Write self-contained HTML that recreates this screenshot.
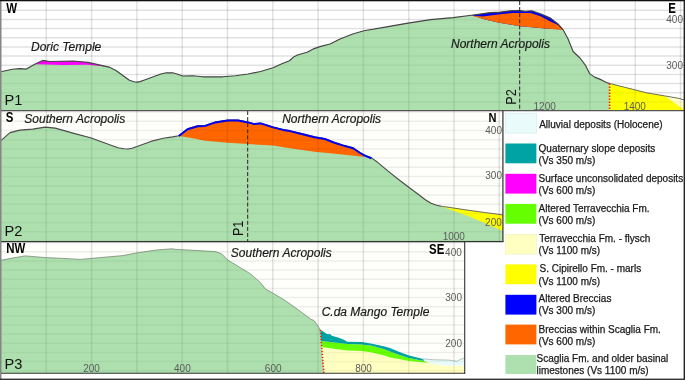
<!DOCTYPE html>
<html><head><meta charset="utf-8"><title>Geological cross-sections</title>
<style>
html,body{margin:0;padding:0;background:#fff;}
body{width:685px;height:380px;overflow:hidden;}
svg{display:block;font-family:"Liberation Sans",sans-serif;}
.it{font-style:italic;font-size:12px;fill:#1a1a1a;stroke:#1a1a1a;stroke-width:0.2px;}
.bd{font-weight:bold;font-size:13.8px;fill:#000;}
.ax{font-size:10px;fill:#5c5c5c;}
.pl{font-size:14.6px;fill:#111;}
.lg{font-size:10px;fill:#1a1a1a;stroke:#1a1a1a;stroke-width:0.25px;}
</style></head><body>
<svg width="685" height="380" viewBox="0 0 685 380">
<defs>
<clipPath id="c1"><rect x="0" y="0" width="685" height="110.5"/></clipPath>
<clipPath id="c2"><rect x="0" y="110.5" width="503" height="131"/></clipPath>
<clipPath id="c3"><rect x="0" y="241.5" width="465" height="132"/></clipPath>
</defs>
<rect width="685" height="380" fill="#fff"/>

<g clip-path="url(#c1)" stroke="#000" stroke-opacity="0.075" stroke-width="1.5" fill="none"><path d="M46.3 0V110.5" stroke-opacity="0.04"/><path d="M91.6 0V110.5" stroke-opacity="0.04"/><path d="M136.9 0V110.5" stroke-opacity="0.04"/><path d="M182.2 0V110.5" stroke-opacity="0.04"/><path d="M227.5 0V110.5" stroke-opacity="0.04"/><path d="M272.8 0V110.5" stroke-opacity="0.04"/><path d="M318.1 0V110.5" stroke-opacity="0.04"/><path d="M363.4 0V110.5" stroke-opacity="0.04"/><path d="M408.7 0V110.5" stroke-opacity="0.04"/><path d="M454.0 0V110.5" stroke-opacity="0.04"/><path d="M499.3 0V110.5" stroke-opacity="0.04"/><path d="M544.6 0V110.5" stroke-opacity="0.04"/><path d="M589.9 0V110.5" stroke-opacity="0.04"/><path d="M635.2 0V110.5" stroke-opacity="0.04"/><path d="M680.5 0V110.5" stroke-opacity="0.04"/><path d="M0 1.2H685"/><path d="M0 10.3H685"/><path d="M0 19.5H685"/><path d="M0 28.6H685"/><path d="M0 37.8H685"/><path d="M0 47.0H685"/><path d="M0 56.1H685"/><path d="M0 65.2H685"/><path d="M0 74.4H685"/><path d="M0 83.5H685"/><path d="M0 92.7H685"/><path d="M0 101.9H685"/></g>
<g clip-path="url(#c1)">
<polygon fill="#ade0ae" points="0.0,71.8 2.0,71.5 12.6,69.3 20.0,68.6 26.4,69.1 35.2,63.9 42.7,60.4 50.0,61.5 73.0,61.0 88.0,62.4 109.0,67.1 115.6,70.2 129.4,80.2 134.0,81.8 137.0,82.1 140.0,81.6 144.5,80.0 160.8,74.0 166.3,72.8 172.6,72.8 177.0,74.0 182.6,76.0 192.7,75.8 202.7,76.8 222.8,76.8 235.4,75.8 248.0,74.0 260.5,71.5 273.0,67.7 283.0,63.2 289.4,60.7 294.4,56.4 298.2,54.7 307.0,52.2 313.3,48.9 320.8,46.4 330.0,44.0 340.0,39.0 352.7,34.0 364.0,30.7 385.3,27.1 408.0,23.1 430.5,19.6 453.2,17.6 471.4,15.3 490.2,12.6 500.3,12.1 510.3,10.8 519.1,10.6 525.4,11.3 531.7,10.8 540.5,13.8 550.5,18.1 558.0,23.9 563.0,29.6 568.1,39.0 573.1,51.5 580.0,58.0 585.7,65.7 589.6,73.6 594.6,77.1 601.5,79.9 606.4,82.5 609.4,83.4 625.2,87.4 646.9,92.9 664.7,95.9 678.5,98.3 685.0,100.2 685.0,111.0 0.0,111.0"/>
<polygon fill="#ffff00" points="609.4,83.4 625.2,87.4 646.9,92.9 664.7,95.9 678.5,98.3 685.0,100.2 685.0,111.0 609.4,111.0"/>
<polygon fill="#ffffc2" points="664.7,96.1 685,100.2 685,110.6"/>
<polygon fill="#ffffe0" points="664.7,96.1 685,100.2 685,103.5"/>
<polygon fill="#ff00ff" points="35.2,63.9 42.7,60.4 50.0,61.5 73.0,61.0 88.0,62.4 109.0,67.1 100.0,66.0 88.0,64.8 62.8,65.1 45.0,64.6 35.2,64.2"/>
<polygon fill="#0000ee" points="471.4,15.3 490.2,12.6 500.3,12.1 510.3,10.8 519.1,10.6 525.4,11.3 531.7,10.8 540.5,13.8 550.5,18.1 558.0,23.9 563.0,29.6 545.5,28.4 520.4,26.2 500.3,23.0 485.0,19.5"/>
<polygon fill="#ff6600" points="471.4,15.6 482.7,16.6 500.3,14.3 512.8,13.1 530.4,13.1 540.5,16.3 550.5,21.4 558.0,25.1 563.0,29.9 545.5,28.4 520.4,26.2 500.3,23.0 485.0,19.5"/>
</g>
<g clip-path="url(#c1)" stroke="#000" stroke-opacity="0.045" stroke-width="1.5" fill="none"><path d="M46.3 0V110.5" stroke-opacity="0.08"/><path d="M91.6 0V110.5" stroke-opacity="0.08"/><path d="M136.9 0V110.5" stroke-opacity="0.08"/><path d="M182.2 0V110.5" stroke-opacity="0.08"/><path d="M227.5 0V110.5" stroke-opacity="0.08"/><path d="M272.8 0V110.5" stroke-opacity="0.08"/><path d="M318.1 0V110.5" stroke-opacity="0.08"/><path d="M363.4 0V110.5" stroke-opacity="0.08"/><path d="M408.7 0V110.5" stroke-opacity="0.08"/><path d="M454.0 0V110.5" stroke-opacity="0.08"/><path d="M499.3 0V110.5" stroke-opacity="0.08"/><path d="M544.6 0V110.5" stroke-opacity="0.08"/><path d="M589.9 0V110.5" stroke-opacity="0.08"/><path d="M635.2 0V110.5" stroke-opacity="0.08"/><path d="M680.5 0V110.5" stroke-opacity="0.08"/><path d="M0 1.2H685"/><path d="M0 10.3H685"/><path d="M0 19.5H685"/><path d="M0 28.6H685"/><path d="M0 37.8H685"/><path d="M0 47.0H685"/><path d="M0 56.1H685"/><path d="M0 65.2H685"/><path d="M0 74.4H685"/><path d="M0 83.5H685"/><path d="M0 92.7H685"/><path d="M0 101.9H685"/></g>
<g clip-path="url(#c1)">
<polyline fill="none" stroke="#444" stroke-width="1.15" stroke-linejoin="round" points="0.0,71.8 2.0,71.5 12.6,69.3 20.0,68.6 26.4,69.1 35.2,63.9 42.7,60.4 50.0,61.5 73.0,61.0 88.0,62.4 109.0,67.1 115.6,70.2 129.4,80.2 134.0,81.8 137.0,82.1 140.0,81.6 144.5,80.0 160.8,74.0 166.3,72.8 172.6,72.8 177.0,74.0 182.6,76.0 192.7,75.8 202.7,76.8 222.8,76.8 235.4,75.8 248.0,74.0 260.5,71.5 273.0,67.7 283.0,63.2 289.4,60.7 294.4,56.4 298.2,54.7 307.0,52.2 313.3,48.9 320.8,46.4 330.0,44.0 340.0,39.0 352.7,34.0 364.0,30.7 385.3,27.1 408.0,23.1 430.5,19.6 453.2,17.6 471.4,15.3 490.2,12.6 500.3,12.1 510.3,10.8 519.1,10.6 525.4,11.3 531.7,10.8 540.5,13.8 550.5,18.1 558.0,23.9 563.0,29.6 568.1,39.0 573.1,51.5 580.0,58.0 585.7,65.7 589.6,73.6 594.6,77.1 601.5,79.9 606.4,82.5 609.4,83.4"/>
<polyline fill="none" stroke="#6e6e5a" stroke-width="1" stroke-linejoin="round" points="609.4,83.4 625.2,87.4 646.9,92.9 664.7,95.9 678.5,98.3 685.0,100.2"/>
<path d="M609.6 83.6V110.5" stroke="#ff2200" stroke-width="1.6" stroke-dasharray="1.4 1.6" fill="none"/>
<path d="M519.7 1V110.5" stroke="#222" stroke-width="1" stroke-dasharray="4 2.1" fill="none"/>
</g>
<rect x="0" y="111" width="503" height="131" fill="#fefefb"/>
<g clip-path="url(#c2)" stroke="#000" stroke-opacity="0.025" stroke-width="1.5" fill="none"><path d="M46.3 111V241.5" stroke-opacity="0.04"/><path d="M91.6 111V241.5" stroke-opacity="0.04"/><path d="M136.9 111V241.5" stroke-opacity="0.04"/><path d="M182.2 111V241.5" stroke-opacity="0.04"/><path d="M227.5 111V241.5" stroke-opacity="0.04"/><path d="M272.8 111V241.5" stroke-opacity="0.04"/><path d="M318.1 111V241.5" stroke-opacity="0.04"/><path d="M363.4 111V241.5" stroke-opacity="0.04"/><path d="M408.7 111V241.5" stroke-opacity="0.04"/><path d="M454.0 111V241.5" stroke-opacity="0.04"/><path d="M499.3 111V241.5" stroke-opacity="0.04"/><path d="M0 112.1H503"/><path d="M0 121.3H503"/><path d="M0 130.5H503"/><path d="M0 139.7H503"/><path d="M0 148.9H503"/><path d="M0 158.1H503"/><path d="M0 167.3H503"/><path d="M0 176.6H503"/><path d="M0 185.8H503"/><path d="M0 195.0H503"/><path d="M0 204.2H503"/><path d="M0 213.4H503"/><path d="M0 222.6H503"/><path d="M0 231.8H503"/><path d="M0 241.0H503"/></g>
<g clip-path="url(#c2)">
<polygon fill="#ade0ae" points="0.0,140.5 2.0,139.7 10.0,132.6 20.0,130.1 32.7,129.1 45.2,127.1 55.3,128.1 72.9,133.1 90.5,137.7 105.5,143.2 118.0,147.7 124.0,148.8 128.1,149.0 132.0,148.2 137.0,146.5 150.8,141.4 163.3,138.2 172.6,136.9 178.8,135.7 187.6,128.9 197.7,125.9 205.2,125.6 215.3,122.1 227.8,120.1 237.9,120.1 248.0,122.1 254.2,123.8 260.5,123.1 273.1,127.1 283.1,129.6 290.0,130.8 300.5,133.4 314.5,136.9 325.0,138.7 333.8,142.2 342.6,145.1 353.1,147.9 360.1,152.7 365.3,155.6 371.5,157.9 377.6,162.3 388.1,171.1 398.6,179.5 404.8,184.2 419.5,195.3 425.0,199.5 431.0,203.3 436.0,205.0 441.2,206.2 466.0,209.9 484.5,212.5 503.0,214.9 503.0,242.0 0.0,242.0"/>
<polygon fill="#ffff00" points="441.2,206.2 466,209.9 484.5,212.5 503,214.9 503,231 485.9,223.4 467.4,215.8"/>
<polygon fill="#ff6600" points="178.8,135.7 187.6,128.9 197.7,125.9 205.2,125.6 215.3,122.1 227.8,120.1 237.9,120.1 248.0,122.1 254.2,123.8 260.5,123.1 273.1,127.1 283.1,129.6 290.0,130.8 300.5,133.4 314.5,136.9 325.0,138.7 333.8,142.2 342.6,145.1 353.1,147.9 360.1,152.7 365.3,155.6 362.7,156.7 342.6,154.4 314.5,151.8 290.0,148.3 273.1,145.6 248.0,144.0 227.8,142.7 205.2,140.7 190.0,137.8 178.8,135.9"/>
</g>
<g clip-path="url(#c2)" stroke="#000" stroke-opacity="0.045" stroke-width="1.5" fill="none"><path d="M46.3 111V241.5" stroke-opacity="0.08"/><path d="M91.6 111V241.5" stroke-opacity="0.08"/><path d="M136.9 111V241.5" stroke-opacity="0.08"/><path d="M182.2 111V241.5" stroke-opacity="0.08"/><path d="M227.5 111V241.5" stroke-opacity="0.08"/><path d="M272.8 111V241.5" stroke-opacity="0.08"/><path d="M318.1 111V241.5" stroke-opacity="0.08"/><path d="M363.4 111V241.5" stroke-opacity="0.08"/><path d="M408.7 111V241.5" stroke-opacity="0.08"/><path d="M454.0 111V241.5" stroke-opacity="0.08"/><path d="M499.3 111V241.5" stroke-opacity="0.08"/><path d="M0 112.1H503"/><path d="M0 121.3H503"/><path d="M0 130.5H503"/><path d="M0 139.7H503"/><path d="M0 148.9H503"/><path d="M0 158.1H503"/><path d="M0 167.3H503"/><path d="M0 176.6H503"/><path d="M0 185.8H503"/><path d="M0 195.0H503"/><path d="M0 204.2H503"/><path d="M0 213.4H503"/><path d="M0 222.6H503"/><path d="M0 231.8H503"/><path d="M0 241.0H503"/></g>
<g clip-path="url(#c2)">
<polyline fill="none" stroke="#4a4a4a" stroke-width="1.1" stroke-linejoin="round" points="0.0,140.5 2.0,139.7 10.0,132.6 20.0,130.1 32.7,129.1 45.2,127.1 55.3,128.1 72.9,133.1 90.5,137.7 105.5,143.2 118.0,147.7 124.0,148.8 128.1,149.0 132.0,148.2 137.0,146.5 150.8,141.4 163.3,138.2 172.6,136.9 178.8,135.7 187.6,128.9 197.7,125.9 205.2,125.6 215.3,122.1 227.8,120.1 237.9,120.1 248.0,122.1 254.2,123.8 260.5,123.1 273.1,127.1 283.1,129.6 290.0,130.8 300.5,133.4 314.5,136.9 325.0,138.7 333.8,142.2 342.6,145.1 353.1,147.9 360.1,152.7 365.3,155.6 371.5,157.9 377.6,162.3 388.1,171.1 398.6,179.5 404.8,184.2 419.5,195.3 425.0,199.5 431.0,203.3 436.0,205.0 441.2,206.2"/>
<polyline fill="none" stroke="#6e6e5a" stroke-width="1" stroke-linejoin="round" points="441.2,206.2 466.0,209.9 484.5,212.5 503.0,214.9"/>
<polyline fill="none" stroke="#0000ee" stroke-width="2" stroke-linejoin="round" points="178.8,136.0 187.6,129.2 197.7,126.2 205.2,125.9 215.3,122.4 227.8,120.4 237.9,120.4 248.0,122.4 254.2,124.1 260.5,123.4 273.1,127.4 283.1,129.9 290.0,131.1 300.5,133.7 314.5,137.2 325.0,139.0 333.8,142.5 342.6,145.4 353.1,148.2 360.1,153.0 365.3,155.9 371.5,158.2"/>
<path d="M247.7 111V241.5" stroke="#222" stroke-width="1" stroke-dasharray="4 2.1" fill="none"/>
</g>
<rect x="0" y="242" width="465" height="131.5" fill="#fefefb"/>
<g clip-path="url(#c3)" stroke="#000" stroke-opacity="0.025" stroke-width="1.5" fill="none"><path d="M46.3 242V373.5" stroke-opacity="0.04"/><path d="M91.6 242V373.5" stroke-opacity="0.04"/><path d="M136.9 242V373.5" stroke-opacity="0.04"/><path d="M182.2 242V373.5" stroke-opacity="0.04"/><path d="M227.5 242V373.5" stroke-opacity="0.04"/><path d="M272.8 242V373.5" stroke-opacity="0.04"/><path d="M318.1 242V373.5" stroke-opacity="0.04"/><path d="M363.4 242V373.5" stroke-opacity="0.04"/><path d="M408.7 242V373.5" stroke-opacity="0.04"/><path d="M454.0 242V373.5" stroke-opacity="0.04"/><path d="M0 242.7H465"/><path d="M0 251.8H465"/><path d="M0 260.9H465"/><path d="M0 270.1H465"/><path d="M0 279.2H465"/><path d="M0 288.4H465"/><path d="M0 297.6H465"/><path d="M0 306.7H465"/><path d="M0 315.9H465"/><path d="M0 325.0H465"/><path d="M0 334.2H465"/><path d="M0 343.3H465"/><path d="M0 352.5H465"/><path d="M0 361.6H465"/><path d="M0 370.8H465"/></g>
<g clip-path="url(#c3)">
<polygon fill="#ade0ae" points="0.0,260.6 2.0,260.1 12.6,258.1 25.1,255.9 45.2,257.6 62.8,258.4 80.4,259.4 100.5,257.6 123.1,255.6 135.7,253.1 155.8,250.1 172.0,248.8 175.0,249.3 197.7,250.6 215.3,251.6 221.6,253.8 227.8,260.1 240.4,267.7 250.5,273.9 260.5,282.7 265.5,289.0 273.1,293.3 285.6,300.8 300.7,311.6 310.8,319.2 313.9,320.5 317.1,324.7 320.2,329.8 323.9,373.5 0.0,373.5"/>
<polygon fill="#ffffc2" points="321.7,346.9 330.4,348.3 347.5,350.4 361.8,351.0 372.0,352.4 384.2,355.4 390.0,357.6 398.8,359.1 409.0,361.0 419.2,362.0 428.7,363.0 438.2,364.9 448.4,365.7 465.0,365.4 465.0,374.0 324.0,374.0"/>
<polygon fill="#eafbfb" points="422.8,358.8 433.8,359.8 448.4,360.1 457.2,361.3 460.1,359.5 465.0,357.8 465.0,365.4 448.4,365.7 438.2,364.9 428.7,363.0"/>
<polygon fill="#66ff00" points="321.2,340.9 330.4,342.1 347.5,344.1 361.8,344.6 372.0,345.8 384.2,349.2 390.0,351.5 398.8,354.7 409.0,357.9 419.2,360.1 424.0,361.1 428.7,363.0 419.2,362.0 409.0,361.0 398.8,359.1 390.0,357.6 384.2,355.4 372.0,352.4 361.8,351.0 347.5,350.4 330.4,348.3 321.7,346.9"/>
<polygon fill="#00a3a3" points="320.3,329.8 324.0,332.1 326.7,334.0 330.4,334.2 331.8,335.8 339.6,338.1 343.3,339.5 347.5,341.8 361.8,342.1 372.0,343.7 382.6,345.9 390.0,348.1 398.8,351.8 409.0,355.4 419.2,358.1 423.0,358.9 424.0,361.1 419.2,360.1 409.0,357.9 398.8,354.7 390.0,351.5 384.2,349.2 372.0,345.8 361.8,344.6 347.5,344.1 330.4,342.1 321.2,340.9"/>
</g>
<g clip-path="url(#c3)" stroke="#000" stroke-opacity="0.045" stroke-width="1.5" fill="none"><path d="M46.3 242V373.5" stroke-opacity="0.08"/><path d="M91.6 242V373.5" stroke-opacity="0.08"/><path d="M136.9 242V373.5" stroke-opacity="0.08"/><path d="M182.2 242V373.5" stroke-opacity="0.08"/><path d="M227.5 242V373.5" stroke-opacity="0.08"/><path d="M272.8 242V373.5" stroke-opacity="0.08"/><path d="M318.1 242V373.5" stroke-opacity="0.08"/><path d="M363.4 242V373.5" stroke-opacity="0.08"/><path d="M408.7 242V373.5" stroke-opacity="0.08"/><path d="M454.0 242V373.5" stroke-opacity="0.08"/><path d="M0 242.7H465"/><path d="M0 251.8H465"/><path d="M0 260.9H465"/><path d="M0 270.1H465"/><path d="M0 279.2H465"/><path d="M0 288.4H465"/><path d="M0 297.6H465"/><path d="M0 306.7H465"/><path d="M0 315.9H465"/><path d="M0 325.0H465"/><path d="M0 334.2H465"/><path d="M0 343.3H465"/><path d="M0 352.5H465"/><path d="M0 361.6H465"/><path d="M0 370.8H465"/></g>
<g clip-path="url(#c3)">
<polyline fill="none" stroke="#7a8a7a" stroke-width="0.8" stroke-linejoin="round" points="0.0,260.6 2.0,260.1 12.6,258.1 25.1,255.9 45.2,257.6 62.8,258.4 80.4,259.4 100.5,257.6 123.1,255.6 135.7,253.1 155.8,250.1 172.0,248.8 175.0,249.3 197.7,250.6 215.3,251.6 221.6,253.8 227.8,260.1 240.4,267.7 250.5,273.9 260.5,282.7 265.5,289.0 273.1,293.3 285.6,300.8 300.7,311.6 310.8,319.2 313.9,320.5 317.1,324.7 320.2,329.8"/>
<polyline fill="none" stroke="#8a9a9a" stroke-width="0.6" points="422.8,358.8 433.8,359.8 448.4,360.1 457.2,361.3 460.1,359.5 465.0,357.8"/>
<path d="M320.3 329.8L323.9 373.5" stroke="#ff2200" stroke-width="1.6" stroke-dasharray="1.4 1.6" fill="none"/>
</g>
<rect x="503.5" y="111" width="180" height="267.5" fill="#fff"/>
<rect x="505.4" y="113.3" width="31" height="19.8" fill="#eafbfb" stroke="#d9eeee" stroke-width="0.8"/>
<rect x="505.4" y="143.5" width="31" height="19.8" fill="#00a3a3"/>
<rect x="505.4" y="173.8" width="31" height="19.8" fill="#ff00ff"/>
<rect x="505.4" y="203.9" width="31" height="19.8" fill="#66ff00"/>
<rect x="505.4" y="234.3" width="31" height="19.8" fill="#ffffc2" stroke="#f0f0c0" stroke-width="0.6"/>
<rect x="505.4" y="264.4" width="31" height="19.8" fill="#ffff00"/>
<rect x="505.4" y="294.8" width="31" height="19.8" fill="#0000ff"/>
<rect x="505.4" y="324.6" width="31" height="19.8" fill="#ff6600"/>
<rect x="505.4" y="355.0" width="31" height="19" fill="#ade0ae"/>
<text class="lg" x="539.2" y="128.0">Alluvial deposits (Holocene)</text>
<text class="lg" x="538.6" y="151.9">Quaternary slope deposits</text>
<text class="lg" x="538.6" y="164.1">(Vs 350 m/s)</text>
<text class="lg" x="538.6" y="181.5">Surface unconsolidated deposits</text>
<text class="lg" x="538.6" y="193.8">(Vs 600 m/s)</text>
<text class="lg" x="538.6" y="211.9">Altered Terravecchia Fm.</text>
<text class="lg" x="538.6" y="224.3">(Vs 600 m/s)</text>
<text class="lg" x="539.2" y="241.9">Terravecchia Fm. - flysch</text>
<text class="lg" x="538.6" y="254.4">(Vs 1100 m/s)</text>
<text class="lg" x="539.5" y="272.1">S. Cipirello Fm. - marls</text>
<text class="lg" x="538.6" y="284.7">(Vs 1100 m/s)</text>
<text class="lg" x="538.6" y="301.7">Altered Breccias</text>
<text class="lg" x="538.6" y="314.0">(Vs 300 m/s)</text>
<text class="lg" x="538.6" y="332.8">Breccias within Scaglia Fm.</text>
<text class="lg" x="538.6" y="345.4">(Vs 600 m/s)</text>
<text class="lg" x="536.5" y="362.1">Scaglia Fm. and older basinal</text>
<text class="lg" x="536.5" y="374.1">limestones (Vs 1100 m/s)</text>
<text class="bd" transform="translate(6.2,12.5) scale(0.83,1)">W</text>
<text class="bd" transform="translate(668.2,12.6) scale(0.83,1)">E</text>
<text class="bd" transform="translate(5.8,122.4) scale(0.83,1)">S</text>
<text class="bd" style="font-size:13.3px" transform="translate(488.4,121.9) scale(0.83,1)">N</text>
<text class="bd" transform="translate(6.2,253.4) scale(0.83,1)">NW</text>
<text class="bd" transform="translate(429,253.5) scale(0.83,1)">SE</text>
<text class="it" x="31" y="51">Doric Temple</text>
<text class="it" x="451" y="47.6">Northern Acropolis</text>
<text class="it" x="24.3" y="122.8">Southern Acropolis</text>
<text class="it" x="282.2" y="123">Northern Acropolis</text>
<text class="it" x="230.8" y="257.1">Southern Acropolis</text>
<text class="it" x="321.7" y="315.7">C.da Mango Temple</text>
<text class="pl" x="4.5" y="104.9">P1</text>
<text class="pl" x="4.5" y="236">P2</text>
<text class="pl" x="4.5" y="368.8">P3</text>
<text class="pl" transform="translate(515.8,104.7) rotate(-90) scale(0.87,1)">P2</text>
<text class="pl" transform="translate(243.2,236.1) rotate(-90) scale(0.87,1)">P1</text>
<text class="ax" x="683" y="23" text-anchor="end">400</text>
<text class="ax" x="683" y="68.6" text-anchor="end">300</text>
<text class="ax" x="544.7" y="109.7" text-anchor="middle">1200</text>
<text class="ax" x="634.8" y="109.6" text-anchor="middle">1400</text>
<text class="ax" x="502" y="133.7" text-anchor="end">400</text>
<text class="ax" x="502" y="179.1" text-anchor="end">300</text>
<text class="ax" x="501.8" y="226.0" text-anchor="end">200</text>
<text class="ax" x="453.8" y="240.2" text-anchor="middle">1000</text>
<text class="ax" x="461.8" y="255.5" text-anchor="end">400</text>
<text class="ax" x="462" y="300.6" text-anchor="end">300</text>
<text class="ax" x="462" y="347" text-anchor="end">200</text>
<text class="ax" x="91.6" y="372.4" text-anchor="middle">200</text>
<text class="ax" x="182.4" y="372.4" text-anchor="middle">400</text>
<text class="ax" x="273.2" y="372.4" text-anchor="middle">600</text>
<text class="ax" x="363.6" y="372.4" text-anchor="middle">800</text>
<path d="M0 110.6H685" stroke="#555" stroke-width="1.1"/>
<path d="M0 241.6H503.5" stroke="#333" stroke-width="1.1"/>
<path d="M502.9 110.5V242.1" stroke="#4a4a4a" stroke-width="1.4"/>
<path d="M0 373.3H465.2" stroke="#333" stroke-width="1.1"/>
<path d="M464.7 241.5V373.8" stroke="#333" stroke-width="1.1"/>
<rect x="0" y="0" width="1.5" height="380" fill="#858585"/>
<rect x="0" y="0" width="685" height="1.2" fill="#111"/>
<rect x="683.6" y="0" width="1.4" height="380" fill="#222"/>
<rect x="0" y="378.6" width="685" height="1.4" fill="#333"/>
</svg></body></html>
